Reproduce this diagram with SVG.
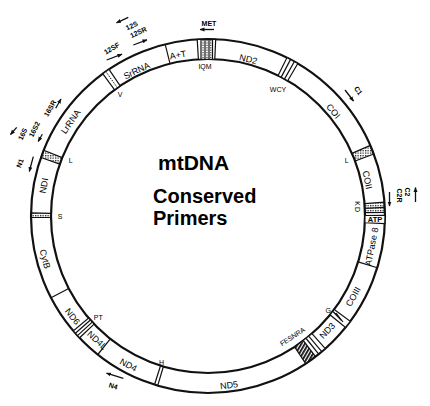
<svg xmlns="http://www.w3.org/2000/svg" width="430" height="406" viewBox="0 0 430 406">
<style>
text{font-family:"Liberation Sans",Arial,sans-serif;fill:#000}
.seg{font-size:9px}
.sm{font-size:7px}
.pr{font-size:7px;font-weight:bold}
.ttl{font-weight:bold;font-size:20px}
.ring{fill:none;stroke:#111;stroke-width:2.2}
.b{stroke:#111;stroke-width:1.2;fill:none}
.blk{stroke:#111;stroke-width:1.2;fill:#fff}
.arr{stroke:#111;stroke-width:1.3;fill:none;marker-end:url(#ah)}
</style>
<defs>
<marker id="ah" viewBox="0 0 10 10" refX="9" refY="5" markerWidth="5" markerHeight="5" markerUnits="userSpaceOnUse" orient="auto"><path d="M0,1 L10,5 L0,9 z" fill="#111"/></marker>
<pattern id="dots" width="2.5" height="2.5" patternUnits="userSpaceOnUse"><rect width="1.3" height="1.3" fill="#222"/></pattern>
<pattern id="diag" width="3" height="3" patternUnits="userSpaceOnUse" patternTransform="rotate(30)"><rect width="1.8" height="3" fill="#111"/></pattern>
</defs>
<rect width="430" height="406" fill="#fff"/>
<g id="ring">
<circle class="ring" cx="208" cy="216" r="177"/>
<circle class="ring" cx="208" cy="216" r="157"/>
</g>
<g id="title">
<text class="ttl" x="158" y="170" style="font-size:21px">mtDNA</text>
<text class="ttl" x="153" y="202.5">Conserved</text>
<text class="ttl" x="153" y="224.5">Primers</text>
</g>
<g id="AT"><line class="b" x1="170" y1="63.7" x2="165.2" y2="44.3"/><text class="seg" transform="translate(178,55) rotate(-10)" text-anchor="middle" y="3">A+T</text></g>
<g id="IQM">
<polygon class="blk" points="198.4,59.3 197.2,39.3 215.7,39.2 214.8,59.2"/>
<path class="b" d="M201,39.5V59.5M205,39.5V59.5M209,39.5V59.5M212.5,39.5V59.5" stroke-width="1.4"/>
<path d="M203,40V59M207,40V59M210.8,40V59" stroke="#111" stroke-width="1" stroke-dasharray="1.2,1.2"/>
<text class="sm" x="205" y="68.5" text-anchor="middle">IQM</text>
</g>
<g id="ND2"><text class="seg" transform="translate(248.3,59.3) rotate(14)" text-anchor="middle" y="3">ND2</text></g>
<g id="WCY">
<polygon class="blk" points="278.1,75.5 287,57.6 297.8,63.5 287.7,80.7"/>
<path class="b" d="M281.2,77.1L290.6,59.4M284.6,78.9L294.4,61.5" stroke-width="1.4"/>
<text class="sm" x="278" y="92" text-anchor="middle">WCY</text>
</g>
<g id="COI"><text class="seg" transform="translate(333.3,111.3) rotate(50)" text-anchor="middle" y="3">COI</text></g>
<g id="L2">
<polygon points="352,153.4 370.3,145.4 373.8,154 355.1,161" fill="url(#dots)" stroke="#111" stroke-width="1.2"/>
<text class="sm" x="346.7" y="163" text-anchor="middle">L</text>
</g>
<g id="COII"><text class="seg" transform="translate(367.3,180) rotate(78)" text-anchor="middle" y="3">COII</text></g>
<g id="KD">
<polygon points="364.5,203.7 384.5,202.1 384.96,212.3 364.97,212.7" fill="url(#dots)" stroke="#111" stroke-width="1.2"/>
<line class="b" x1="364.8" y1="208.3" x2="384.8" y2="207.3"/>
<text class="sm" transform="translate(357,203.5) rotate(90)" text-anchor="middle" y="2.5">K</text>
<text class="sm" transform="translate(357,209.5) rotate(90)" text-anchor="middle" y="2.5">D</text>
</g>
<g id="ATP">
<polygon class="blk" points="365,215.5 385,215.4 384.8,223.7 364.9,222.8" stroke-width="1.6"/>
<text x="375" y="222.3" text-anchor="middle" style="font-size:7.5px;font-weight:bold">ATP</text>
</g>
<g id="ATPase8">
<line class="b" x1="358.1" y1="261.9" x2="377.3" y2="267.8"/>
<text class="seg" transform="translate(371.7,246.7) rotate(-79)" text-anchor="middle" y="3">ATPase 8</text>
</g>
<g id="COIII"><text class="seg" transform="translate(353.3,296.7) rotate(-61)" text-anchor="middle" y="3">COIII</text></g>
<g id="G">
<polygon class="blk" points="334.2,309.4 350.3,321.3 345.5,327.4 330,314.8"/>
<path class="b" d="M333,311.5L341.5,320.5M336,313L343,322" stroke-width="1"/>
<text class="sm" x="328.3" y="313" text-anchor="middle">G</text>
</g>
<g id="ND3"><text class="seg" transform="translate(327.3,330.7) rotate(-46)" text-anchor="middle" y="3">ND3</text></g>
<g id="FESNRA">
<polygon class="blk" points="312,333.6 325.3,348.6 305.7,363.6 294.6,346.9"/>
<polygon points="303.4,340.7 315.5,356.6 305.7,363.6 294.6,346.9" fill="url(#diag)"/>
<path class="b" d="M308.9,336.3L321.8,351.6M306.2,338.5L318.7,354.1M303.4,340.7L315.5,356.6" stroke-width="1.3"/>
<text class="sm" transform="translate(292.5,336.5) rotate(-33)" text-anchor="middle" y="2.5">FESNRA</text>
</g>
<g id="ND5"><text class="seg" transform="translate(229,385.3) rotate(-7)" text-anchor="middle" y="3">ND5</text></g>
<g id="H">
<path class="b" d="M163.4,366.5L157.7,385.7M160.5,365.7L154.5,384.7"/>
<text class="sm" x="161.5" y="365" text-anchor="middle">H</text>
</g>
<g id="ND4">
<line class="b" x1="110.3" y1="338.9" x2="97.8" y2="354.5"/>
<text class="seg" transform="translate(128.3,365) rotate(28)" text-anchor="middle" y="3">ND4</text>
</g>
<g id="ND4L"><text class="seg" transform="translate(97,340.3) rotate(42)" text-anchor="middle" y="3">ND4L</text></g>
<g id="PT">
<polygon class="blk" points="94.1,324.1 79.6,337.8 73.4,330.9 88.6,318"/>
<path class="b" d="M92.2,322.1L77.5,335.6M90.4,320L75.4,333.3" stroke-width="1.8"/>
<text class="sm" x="98.3" y="320" text-anchor="middle">PT</text>
</g>
<g id="ND6">
<line class="b" x1="68.7" y1="288.5" x2="51" y2="297.7"/>
<text class="seg" transform="translate(72.5,316.5) rotate(52)" text-anchor="middle" y="3">ND6</text>
</g>
<g id="CytB"><text class="seg" transform="translate(45,259) rotate(75)" text-anchor="middle" y="3">CytB</text></g>
<g id="S">
<polygon points="51,217.4 31,217.5 31,212.9 51,213.3" fill="url(#dots)" stroke="#111" stroke-width="1.2"/>
<text class="sm" x="60" y="218.5" text-anchor="middle">S</text>
</g>
<g id="NDI"><text class="seg" transform="translate(44,185.7) rotate(-80)" text-anchor="middle" y="3">NDI</text></g>
<g id="L1">
<polygon points="59.8,164.1 40.9,157.5 43.7,150.3 62.2,157.7" fill="url(#dots)" stroke="#111" stroke-width="1.2"/>
<text class="sm" x="70.7" y="163" text-anchor="middle">L</text>
</g>
<g id="LrRNA"><text class="seg" transform="translate(70.7,121.7) rotate(-55)" text-anchor="middle" y="3">LrRNA</text></g>
<g id="V">
<polygon class="blk" points="114.6,89.8 102.7,73.7 109,69.3 120.2,85.8"/>
<line x1="117.4" y1="87.8" x2="105.8" y2="71.5" stroke="#111" stroke-width="1" stroke-dasharray="1.5,1.2"/>
<text class="sm" x="120" y="97" text-anchor="middle">V</text>
</g>
<g id="SrRNA"><text class="seg" transform="translate(136.7,70.7) rotate(-26)" text-anchor="middle" y="3">SrRNA</text></g>
<g id="primers">
<text class="pr" x="209" y="25.5" text-anchor="middle">MET</text>
<text class="pr" transform="translate(111.7,48.3) rotate(-30)" text-anchor="middle" y="2.5">12SF</text>
<text class="pr" transform="translate(131.7,25.7) rotate(-25)" text-anchor="middle" y="2.5">12S</text>
<text class="pr" transform="translate(138.3,32.3) rotate(-25)" text-anchor="middle" y="2.5">12SR</text>
<text class="pr" transform="translate(358.3,90.7) rotate(55)" text-anchor="middle" y="2.5">C1</text>
<text class="pr" transform="translate(407.5,192) rotate(90)" text-anchor="middle" y="2.5">C2</text>
<text class="pr" transform="translate(399.5,195.5) rotate(90)" text-anchor="middle" y="2.5">C2R</text>
<text class="pr" transform="translate(20,163.3) rotate(-70)" text-anchor="middle" y="2.5">N1</text>
<text class="pr" transform="translate(22.7,134) rotate(-65)" text-anchor="middle" y="2.5">16S</text>
<text class="pr" transform="translate(34.3,129.3) rotate(-65)" text-anchor="middle" y="2.5">16S2</text>
<text class="pr" transform="translate(50,108.3) rotate(-60)" text-anchor="middle" y="2.5">16SR</text>
<text class="pr" transform="translate(113.3,386) rotate(18)" text-anchor="middle" y="2.5">N4</text>
</g>
<g id="connectors">
<line class="arr" x1="214" y1="29.5" x2="200" y2="29.5"/>
<line class="arr" x1="106.7" y1="60" x2="122" y2="54.2"/>
<line class="arr" x1="128.3" y1="17.3" x2="116.5" y2="22.8"/>
<line class="arr" x1="133.3" y1="45" x2="147" y2="39.8"/>
<line class="arr" x1="345" y1="90" x2="353.5" y2="101"/>
<line class="arr" x1="415.5" y1="202" x2="415.5" y2="187.5"/>
<line class="arr" x1="389.5" y1="192" x2="389.5" y2="206"/>
<line class="arr" x1="33.3" y1="156.7" x2="29.3" y2="171.5"/>
<line class="arr" x1="16.7" y1="127.3" x2="10.5" y2="134.5"/>
<line class="arr" x1="42.3" y1="134.3" x2="38.2" y2="141.5"/>
<line class="arr" x1="55.7" y1="108.3" x2="61" y2="99"/>
<line class="arr" x1="123.3" y1="378.3" x2="106.5" y2="373.2"/>
</g>
</svg>
